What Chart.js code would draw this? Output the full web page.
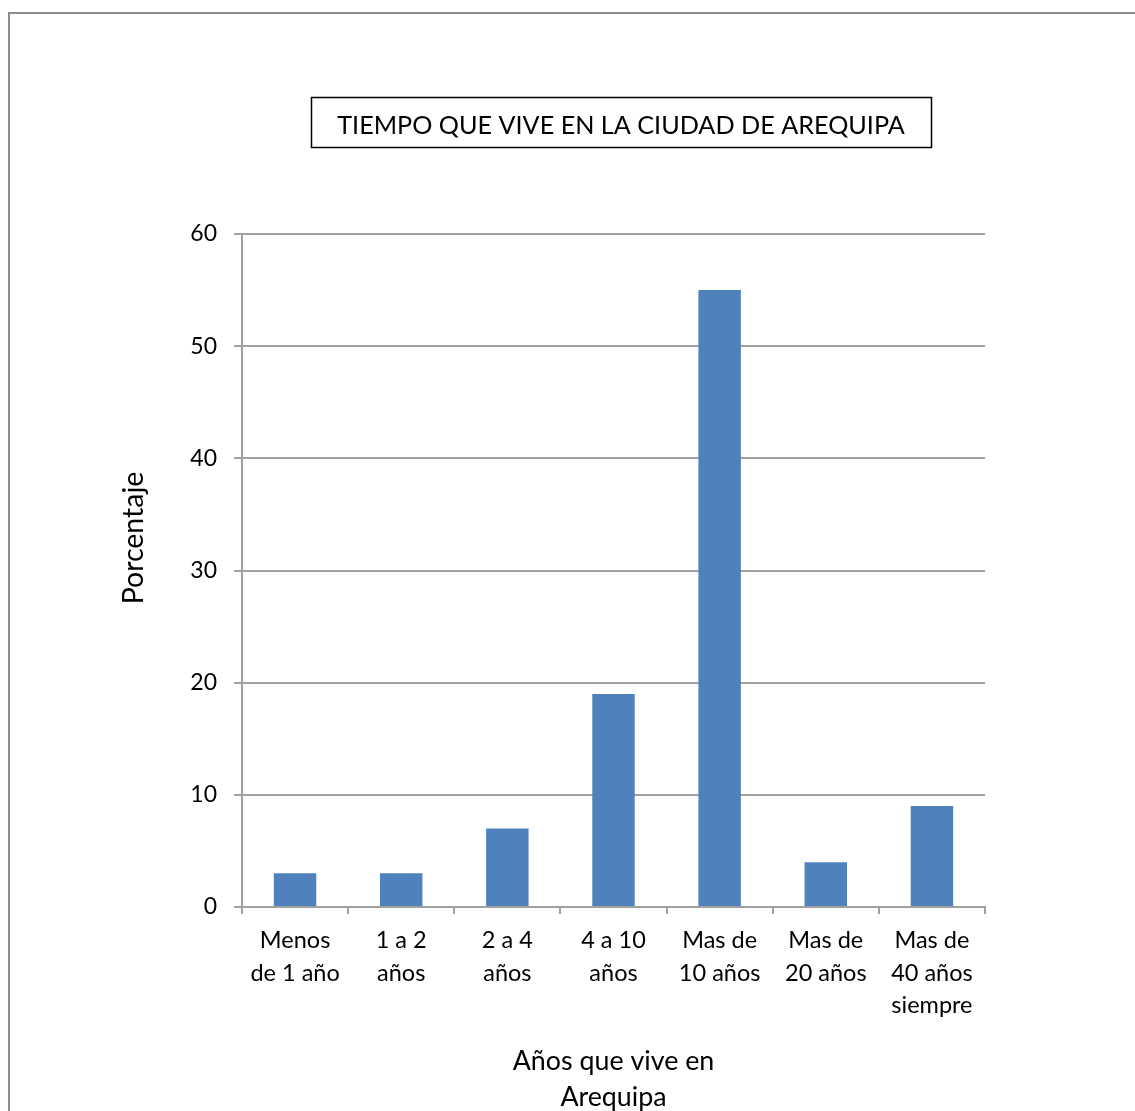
<!DOCTYPE html>
<html>
<head>
<meta charset="utf-8">
<title>Tiempo que vive en la ciudad de Arequipa</title>
<script src="https://cdn.jsdelivr.net/npm/chart.js@4/dist/chart.umd.min.js"></script>
<style>
  html, body { margin: 0; padding: 0; background: #ffffff; overflow: hidden; }
  #wrap { position: relative; width: 1135px; height: 1111px; overflow: hidden; }
  #frame { position: absolute; left: 8px; top: 12px; width: 1300px; height: 1300px;
           border: 2px solid #8e8e8e; box-sizing: border-box; }
  #c { position: absolute; left: 0; top: 0; }
</style>
</head>
<body>
<div id="wrap">
  <div id="frame"></div>
  <canvas id="c" width="1135" height="1130"></canvas>
</div>
<script>
// Data
const categories = [
  ["Menos", "de 1 año"],
  ["1 a 2", "años"],
  ["2 a 4", "años"],
  ["4 a 10", "años"],
  ["Mas de", "10 años"],
  ["Mas de", "20 años"],
  ["Mas de", "40 años", "siempre"]
];
const percentages = [3, 3, 7, 19, 55, 4, 9];
const yTickValues = [0, 10, 20, 30, 40, 50, 60];

// Texts
const chartTitle = "TIEMPO QUE VIVE EN LA CIUDAD DE AREQUIPA";
const xAxisTitle = ["Años que vive en", "Arequipa"];
const yAxisTitle = "Porcentaje";

// Styling
const FONT = "Lato, 'Open Sans', sans-serif";
const AXIS_GREY = "#a0a0a0";
const BAR_BLUE = "#4f81bd";

// Boxed title and rotated y-axis caption
const captionPlugin = {
  id: "captions",
  afterLayout(chart) {
    const tb = chart.titleBlock;
    if (tb) { tb.left = 311; tb.right = 931; tb.width = tb.right - tb.left; }
  },
  afterDraw(chart) {
    const ctx = chart.ctx;
    const tb = chart.titleBlock;
    ctx.save();
    // frame round the title
    ctx.strokeStyle = "#000000";
    ctx.lineWidth = 1.5;
    ctx.strokeRect(tb.left + 0.5, tb.top + 0.5, tb.right - tb.left, 50);
    // y axis caption
    ctx.translate(134, 538);
    ctx.rotate(-Math.PI / 2);
    ctx.font = "28.5px " + FONT;
    ctx.fillStyle = "#000000";
    ctx.textAlign = "center";
    ctx.textBaseline = "middle";
    ctx.fillText(yAxisTitle, 0, 0);
    ctx.restore();
  }
};

new Chart(document.getElementById("c"), {
  type: "bar",
  data: {
    labels: categories,
    datasets: [{
      label: yAxisTitle,
      data: percentages,
      backgroundColor: BAR_BLUE,
      borderWidth: 0,
      barPercentage: 0.4,
      categoryPercentage: 1.0
    }]
  },
  options: {
    responsive: false,
    animation: false,
    devicePixelRatio: 1,
    layout: { padding: { left: 0, right: 150, top: 97, bottom: 0 } },
    plugins: {
      legend: { display: false },
      tooltip: { enabled: false },
      title: {
        display: true,
        text: chartTitle,
        color: "#000000",
        font: { family: FONT, size: 25.2, weight: "normal", lineHeight: 1.2 },
        padding: { top: 14, bottom: 92.8 }
      }
    },
    scales: {
      x: {
        offset: true,
        grid: { display: true, offset: true, drawOnChartArea: false, drawTicks: true,
                tickLength: 7, color: AXIS_GREY, lineWidth: 2 },
        border: { display: true, color: AXIS_GREY, width: 2 },
        ticks: { color: "#000000", autoSkip: false, maxRotation: 0, padding: 10,
                 font: { family: FONT, size: 23.5, lineHeight: 1.39 } },
        title: { display: true, text: xAxisTitle, color: "#000000",
                 font: { family: FONT, size: 26.8, lineHeight: 1.37 },
                 padding: { top: 0, bottom: 14 } },
        afterFit(scale) { scale.height = 223; }
      },
      y: {
        min: 0,
        max: 60,
        afterBuildTicks(scale) { scale.ticks = yTickValues.map(v => ({ value: v })); },
        grid: { color: AXIS_GREY, lineWidth: 2, drawTicks: true, tickLength: 8 },
        border: { display: true, color: AXIS_GREY, width: 2 },
        ticks: { color: "#000000", padding: 17,
                 font: { family: FONT, size: 23 } },
        afterFit(scale) { scale.width = 242; }
      }
    }
  },
  plugins: [captionPlugin]
});
</script>
</body>
</html>
